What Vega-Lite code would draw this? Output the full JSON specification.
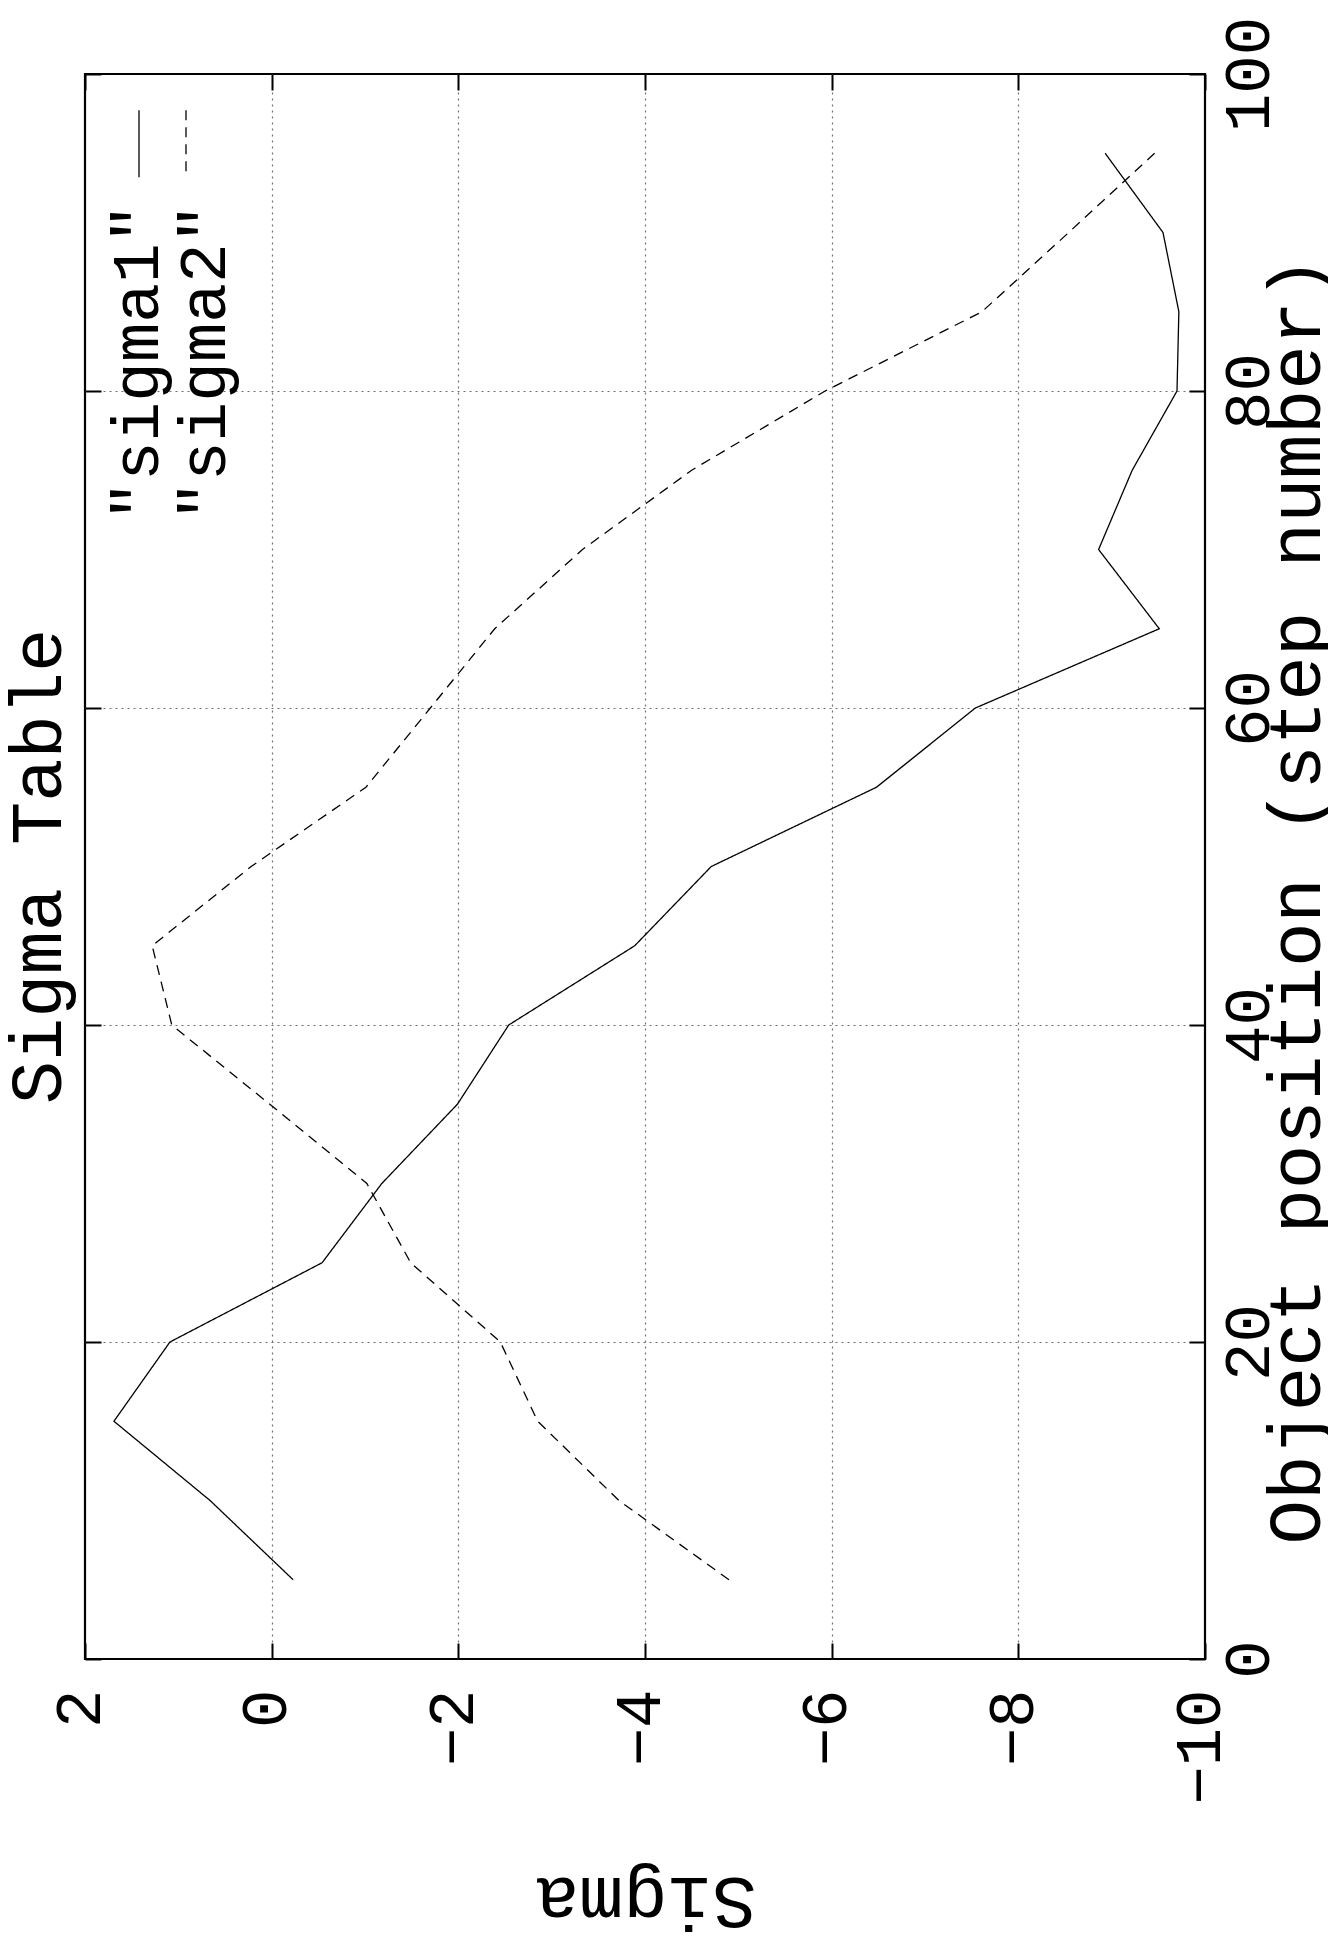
{
  "$schema": "https://vega.github.io/schema/vega-lite/v6.json",
  "width": 1120,
  "height": 1585,
  "autosize": {"type": "none"},
  "padding": {"left": 85, "top": 74, "right": 123, "bottom": 285},
  "background": "white",
  "config": {
    "view": {"stroke": "black", "strokeWidth": 2.2},
    "font": "Liberation Mono",
    "axis": {
      "domain": false,
      "tickColor": "black",
      "tickWidth": 2,
      "tickSize": -16,
      "labelFont": "Liberation Mono",
      "labelFontSize": 64,
      "labelColor": "black",
      "labelFlush": false,
      "labelOverlap": false,
      "titleFont": "Liberation Mono",
      "titleFontSize": 74,
      "titleFontWeight": "normal",
      "titleColor": "black",
      "gridColor": "#707070",
      "gridDash": [2, 4],
      "gridWidth": 1.2
    },
    "legend": {
      "orient": "top-left",
      "offset": 0,
      "padding": 0,
      "direction": "horizontal",
      "symbolType": "M0,-1L0,1",
      "symbolSize": 4489,
      "symbolStrokeWidth": 1.3,
      "symbolStrokeColor": "black",
      "symbolFillColor": "transparent",
      "labelFont": "Liberation Mono",
      "labelFontSize": 66,
      "labelColor": "black",
      "labelLimit": 0,
      "columnPadding": 0
    }
  },
  "data": {
    "values": [
      {"series": "sigma1", "position": 5, "sigma": -0.23},
      {"series": "sigma1", "position": 10, "sigma": 0.66},
      {"series": "sigma1", "position": 15, "sigma": 1.69},
      {"series": "sigma1", "position": 20, "sigma": 1.09},
      {"series": "sigma1", "position": 25, "sigma": -0.54},
      {"series": "sigma1", "position": 30, "sigma": -1.18},
      {"series": "sigma1", "position": 35, "sigma": -1.99},
      {"series": "sigma1", "position": 40, "sigma": -2.54},
      {"series": "sigma1", "position": 45, "sigma": -3.89},
      {"series": "sigma1", "position": 50, "sigma": -4.71},
      {"series": "sigma1", "position": 55, "sigma": -6.48},
      {"series": "sigma1", "position": 60, "sigma": -7.54},
      {"series": "sigma1", "position": 65, "sigma": -9.51},
      {"series": "sigma1", "position": 70, "sigma": -8.86},
      {"series": "sigma1", "position": 75, "sigma": -9.22},
      {"series": "sigma1", "position": 80, "sigma": -9.70},
      {"series": "sigma1", "position": 85, "sigma": -9.72},
      {"series": "sigma1", "position": 90, "sigma": -9.55},
      {"series": "sigma1", "position": 95, "sigma": -8.93},
      {"series": "sigma2", "position": 5, "sigma": -4.90},
      {"series": "sigma2", "position": 10, "sigma": -3.72},
      {"series": "sigma2", "position": 15, "sigma": -2.85},
      {"series": "sigma2", "position": 20, "sigma": -2.45},
      {"series": "sigma2", "position": 25, "sigma": -1.49},
      {"series": "sigma2", "position": 30, "sigma": -1.02},
      {"series": "sigma2", "position": 35, "sigma": 0.02},
      {"series": "sigma2", "position": 40, "sigma": 1.07},
      {"series": "sigma2", "position": 45, "sigma": 1.28},
      {"series": "sigma2", "position": 50, "sigma": 0.22},
      {"series": "sigma2", "position": 55, "sigma": -1.01},
      {"series": "sigma2", "position": 60, "sigma": -1.70},
      {"series": "sigma2", "position": 65, "sigma": -2.39},
      {"series": "sigma2", "position": 70, "sigma": -3.33},
      {"series": "sigma2", "position": 75, "sigma": -4.50},
      {"series": "sigma2", "position": 80, "sigma": -5.93},
      {"series": "sigma2", "position": 85, "sigma": -7.61},
      {"series": "sigma2", "position": 90, "sigma": -8.54},
      {"series": "sigma2", "position": 95, "sigma": -9.46}
    ]
  },
  "layer": [
    {
      "mark": {"type": "line", "color": "black", "strokeWidth": 1.3},
      "encoding": {
        "x": {
          "field": "sigma", "type": "quantitative",
          "scale": {"domain": [-10, 2], "reverse": true, "nice": false, "zero": false},
          "axis": {
            "orient": "bottom",
            "values": [2, 0, -2, -4, -6, -8, -10],
            "grid": true,
            "gridOpacity": {"condition": {"test": "datum.value === 2 || datum.value === -10", "value": 0}, "value": 1},
            "labelAngle": 270,
            "labelAlign": "right",
            "labelBaseline": "alphabetic",
            "labelPadding": 46,
            "labelOffset": 14,
            "title": "Sigma",
            "titleAngle": 180,
            "titleAlign": "center",
            "titleBaseline": "alphabetic",
            "titleX": 560,
            "titleY": 218
          }
        },
        "y": {
          "field": "position", "type": "quantitative",
          "scale": {"domain": [0, 100], "nice": false, "zero": false},
          "axis": {
            "orient": "right",
            "values": [0, 20, 40, 60, 80, 100],
            "grid": true,
            "gridOpacity": {"condition": {"test": "datum.value === 0 || datum.value === 100", "value": 0}, "value": 1},
            "labelAngle": 270,
            "labelAlign": "center",
            "labelBaseline": "alphabetic",
            "labelPadding": 79,
            "title": "Object position (step number)",
            "titleAngle": 270,
            "titleAlign": "center",
            "titleBaseline": "alphabetic",
            "titleX": 114,
            "titleY": 826
          }
        },
        "strokeDash": {
          "field": "series", "type": "nominal",
          "scale": {"domain": ["sigma1", "sigma2"], "range": [[1, 0], [10, 7]]},
          "legend": {
            "title": null,
            "labelExpr": "'\"' + datum.label + '\"'",
            "encode": {
              "labels": {
                "update": {
                  "angle": {"value": 270},
                  "align": {"value": "right"},
                  "baseline": {"value": "alphabetic"},
                  "dx": {"value": -95},
                  "dy": {"signal": "datum.index === 0 ? 0 : -30"}
                }
              },
              "symbols": {
                "update": {
                  "x": {"signal": "datum.index === 0 ? 54 : 4"},
                  "y": {"value": 69.5}
                }
              }
            }
          }
        },
        "order": {"field": "position", "type": "quantitative"}
      }
    },
    {
      "mark": {"type": "line", "opacity": 0},
      "encoding": {
        "x": {
          "field": "sigma", "type": "quantitative",
          "axis": {"orient": "top", "values": [2, 0, -2, -4, -6, -8, -10], "labels": false, "title": null, "grid": false}
        },
        "y": {
          "field": "position", "type": "quantitative",
          "axis": {
            "orient": "left",
            "values": [0, 20, 40, 60, 80, 100],
            "labels": false,
            "grid": false,
            "title": "Sigma Table",
            "titleFontSize": 72,
            "titleAngle": 270,
            "titleAlign": "center",
            "titleBaseline": "alphabetic",
            "titleX": -25,
            "titleY": 792
          }
        },
        "detail": {"field": "series", "type": "nominal"},
        "order": {"field": "position", "type": "quantitative"}
      }
    }
  ],
  "resolve": {"axis": {"x": "independent", "y": "independent"}}
}
